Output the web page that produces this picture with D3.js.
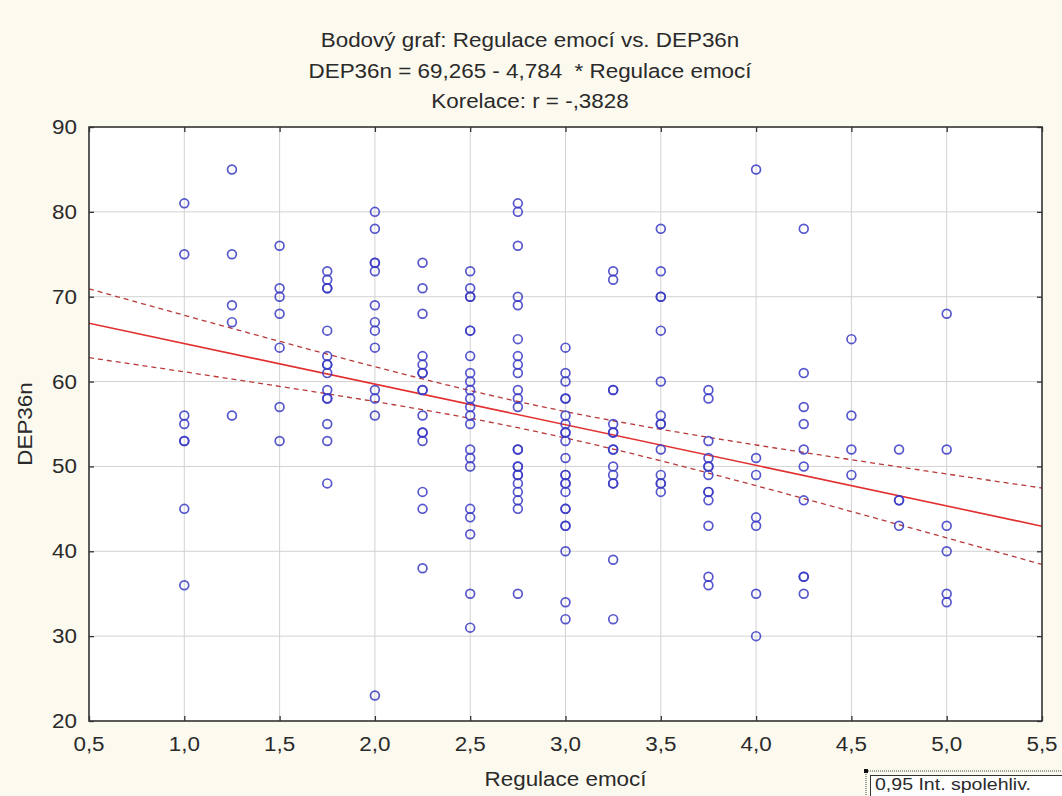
<!DOCTYPE html>
<meta charset="utf-8">
<head>
<style>
html, body{margin:0px; padding:0px; background:#fcf9ef;}
svg text { font-family: "Liberation Sans", Arial, sans-serif; fill:#2a2a2a; white-space: pre; }
</style>
</head>
<script src="https://d3js.org/d3.v7.min.js"></script>

<div id="my_dataviz"></div>

<script>

// values: x level -> DEP36n scores
var xLevels = [1.0, 1.25, 1.5, 1.75, 2.0, 2.25, 2.5, 2.75, 3.0, 3.25, 3.5, 3.75, 4.0, 4.25, 4.5, 4.75, 5.0]
var yByLevel = [
  [81, 75, 56, 55, 53, 53, 45, 36],
  [85, 75, 69, 67, 56],
  [76, 71, 70, 68, 64, 57, 53],
  [73, 72, 71, 71, 66, 63, 62, 62, 61, 59, 58, 58, 55, 53, 48],
  [80, 78, 74, 74, 73, 69, 67, 66, 64, 59, 58, 56, 23],
  [74, 71, 68, 63, 62, 61, 61, 59, 59, 56, 54, 54, 53, 47, 45, 38],
  [73, 71, 70, 70, 66, 66, 63, 61, 60, 59, 58, 57, 56, 55, 52, 51, 50, 45, 44, 42, 35, 31],
  [81, 80, 76, 70, 69, 65, 63, 62, 61, 59, 58, 57, 52, 52, 50, 50, 49, 49, 48, 47, 46, 45, 35],
  [64, 61, 60, 58, 58, 56, 55, 54, 54, 53, 51, 49, 49, 48, 48, 47, 45, 45, 43, 43, 40, 34, 32],
  [73, 72, 59, 59, 55, 54, 54, 52, 52, 50, 49, 48, 48, 39, 32],
  [78, 73, 70, 70, 66, 60, 56, 55, 55, 52, 49, 48, 48, 47],
  [59, 58, 53, 51, 50, 50, 49, 47, 47, 46, 43, 37, 36],
  [85, 51, 49, 44, 43, 35, 30],
  [78, 61, 57, 55, 52, 50, 46, 37, 37, 35],
  [65, 56, 52, 49],
  [52, 46, 46, 43],
  [68, 52, 43, 40, 35, 34]
]
var xTicks = [0.5, 1.0, 1.5, 2.0, 2.5, 3.0, 3.5, 4.0, 4.5, 5.0, 5.5]
var yTicks = [20, 30, 40, 50, 60, 70, 80, 90]

// regression from the chart title
var intercept = 69.265
var slope = -4.784
var titleLines = ["Bodový graf: Regulace emocí vs. DEP36n",
                  "DEP36n = 69,265 - 4,784  * Regulace emocí",
                  "Korelace: r = -,3828"]

// flatten
var data = []
xLevels.forEach(function(x, i) {
  yByLevel[i].forEach(function(y) { data.push({x: x, y: y}) })
})

var W = 1062, H = 796
var plot = {left: 89, right: 1042, top: 127, bottom: 721}

var svg = d3.select("#my_dataviz")
  .append("svg")
    .attr("width", W)
    .attr("height", H)
    .style("display", "block")

svg.append("rect").attr("width", W).attr("height", H).attr("fill", "#fcf9ef")

var x = d3.scaleLinear().domain([0.5, 5.5]).range([plot.left, plot.right])
var y = d3.scaleLinear().domain([20, 90]).range([plot.bottom, plot.top])

var comma = function(v) { return d3.format(".1f")(v).replace(".", ",") }

// slightly wide text like the original export
var stretch = 1.15
function label(g, tx, ty, txt, anchor, rot) {
  return g.append("text")
    .attr("transform", "translate(" + tx + "," + ty + ")" + (rot ? " rotate(" + rot + ")" : "") + " scale(" + stretch + ",1)")
    .attr("text-anchor", anchor)
    .style("font-size", "19.5px")
    .text(txt)
}

// plot background
svg.append("rect")
  .attr("x", plot.left).attr("y", plot.top)
  .attr("width", plot.right - plot.left).attr("height", plot.bottom - plot.top)
  .attr("fill", "white")

// grid
svg.append("g").selectAll("line").data(xTicks.slice(1, -1)).enter().append("line")
  .attr("x1", function(d) { return x(d) }).attr("x2", function(d) { return x(d) })
  .attr("y1", plot.top).attr("y2", plot.bottom)
  .attr("stroke", "#d2d2d2").attr("stroke-width", 1)
svg.append("g").selectAll("line").data(yTicks.slice(1, -1)).enter().append("line")
  .attr("y1", function(d) { return y(d) }).attr("y2", function(d) { return y(d) })
  .attr("x1", plot.left).attr("x2", plot.right)
  .attr("stroke", "#d2d2d2").attr("stroke-width", 1)

// confidence band from residuals around the fitted line
var n = data.length
var xbar = d3.mean(data, function(d) { return d.x })
var sxx = d3.sum(data, function(d) { return (d.x - xbar) * (d.x - xbar) })
var sse = d3.sum(data, function(d) { var r = d.y - (intercept + slope * d.x); return r * r })
var s = Math.sqrt(sse / (n - 2))
var tval = 1.972
var xs = d3.range(0.5, 5.5001, 0.05)
var halfW = function(v) { return tval * s * Math.sqrt(1 / n + (v - xbar) * (v - xbar) / sxx) }

svg.append("clipPath").attr("id", "clip").append("rect")
  .attr("x", plot.left).attr("y", plot.top)
  .attr("width", plot.right - plot.left).attr("height", plot.bottom - plot.top)

var lines = svg.append("g").attr("clip-path", "url(#clip)")
var lineGen = d3.line().x(function(d) { return x(d[0]) }).y(function(d) { return y(d[1]) })

// points
svg.append("g").selectAll("circle").data(data).enter().append("circle")
  .attr("cx", function(d) { return x(d.x) })
  .attr("cy", function(d) { return y(d.y) })
  .attr("r", 4.4)
  .attr("fill", "none")
  .attr("stroke", "#3a3ac4")
  .attr("stroke-opacity", 0.85)
  .attr("stroke-width", 1.7)

lines.append("path")
  .attr("d", lineGen(xs.map(function(v) { return [v, intercept + slope * v + halfW(v)] })))
  .attr("fill", "none").attr("stroke", "#b83a3a").attr("stroke-width", 1.3).attr("stroke-dasharray", "5,4")
lines.append("path")
  .attr("d", lineGen(xs.map(function(v) { return [v, intercept + slope * v - halfW(v)] })))
  .attr("fill", "none").attr("stroke", "#b83a3a").attr("stroke-width", 1.3).attr("stroke-dasharray", "5,4")
lines.append("path")
  .attr("d", lineGen([[0.5, intercept + slope * 0.5], [5.5, intercept + slope * 5.5]]))
  .attr("fill", "none").attr("stroke", "#e23030").attr("stroke-width", 1.6)

// axes with inward ticks on all sides
svg.append("g").attr("transform", "translate(0," + plot.bottom + ")")
  .call(d3.axisTop(x).tickValues(xTicks).tickSize(5).tickFormat(""))
svg.append("g").attr("transform", "translate(0," + plot.top + ")")
  .call(d3.axisBottom(x).tickValues(xTicks).tickSize(5).tickFormat(""))
svg.append("g").attr("transform", "translate(" + plot.left + ",0)")
  .call(d3.axisRight(y).tickValues(yTicks).tickSize(5).tickFormat(""))
svg.append("g").attr("transform", "translate(" + plot.right + ",0)")
  .call(d3.axisLeft(y).tickValues(yTicks).tickSize(5).tickFormat(""))
svg.selectAll(".domain").remove()
svg.selectAll(".tick line").attr("stroke", "#333").attr("stroke-width", 1.3)

// frame
svg.append("rect")
  .attr("x", plot.left).attr("y", plot.top)
  .attr("width", plot.right - plot.left).attr("height", plot.bottom - plot.top)
  .attr("fill", "none").attr("stroke", "#333").attr("stroke-width", 1.6)

// tick labels
var lab = svg.append("g")
xTicks.forEach(function(t) { label(lab, x(t), 751, comma(t), "middle") })
yTicks.forEach(function(t) { label(lab, plot.left - 12, y(t) + 7, String(t), "end") })

// axis titles
label(lab, (plot.left + plot.right) / 2, 786, "Regulace emocí", "middle")
label(lab, 32, (plot.top + plot.bottom) / 2, "DEP36n", "middle", -90)

// chart title
titleLines.forEach(function(t, i) { label(lab, 530, 47 + i * 30.5, t, "middle") })

// legend box (runs off the picture edge)
svg.append("rect").attr("x", 866).attr("y", 771).attr("width", 220).attr("height", 40)
  .attr("fill", "none").attr("stroke", "#444").attr("stroke-width", 1).attr("stroke-dasharray", "1,1")
svg.append("rect").attr("x", 870.5).attr("y", 775.5).attr("width", 215).attr("height", 40)
  .attr("fill", "white").attr("stroke", "#333").attr("stroke-width", 1)
svg.append("rect").attr("x", 864).attr("y", 769).attr("width", 4).attr("height", 4).attr("fill", "#111")
lab.raise()
label(lab, 875, 790, "0,95 Int. spolehliv.", "start").style("font-size", "17px")

</script>
</html>
